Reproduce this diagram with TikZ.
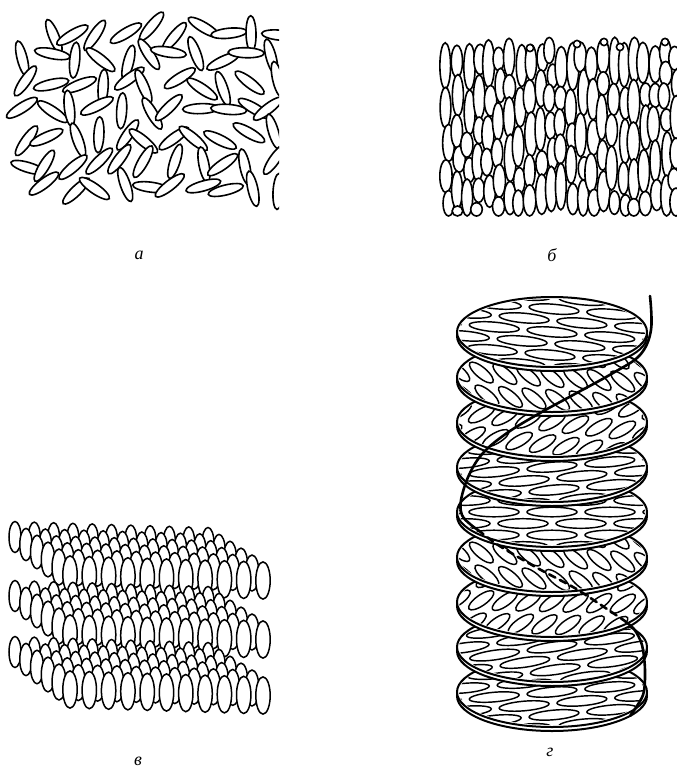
\documentclass[tikz,border=0pt]{standalone}
\usepackage{fontspec}
\setmainfont{Liberation Serif}
\begin{document}
\begin{tikzpicture}[x=1pt,y=-1pt,
  rod/.style={draw=black, fill=white, line width=1.6pt},
  smrod/.style={draw=black, fill=white, line width=1.5pt},
  lamella/.style={draw=black, fill=white, line width=2pt},
  molec/.style={draw=black, line width=1.45pt},
  helixline/.style={draw=black, line width=2.6pt, line cap=round},
  lab/.style={font=\fontsize{18}{20}\selectfont\itshape, inner sep=0pt}]
\useasboundingbox (0,0) rectangle (677,772);

% --- isotropic liquid: randomly oriented rods ---
\pgfmathsetseed{11}
\begin{scope}
  \clip (0,0) rectangle (279,230);
  \foreach \i in {0,...,10}{
    \foreach \j in {0,...,6}{
      \pgfmathsetmacro\px{24+\i*25+6*rand}
      \pgfmathsetmacro\py{32+\j*26+6*rand}
      \pgfmathsetmacro\ang{180*rnd}
      \pgfmathsetmacro\dx{(\px-165)/150}
      \pgfmathsetmacro\dy{(\py-110)/108}
      \pgfmathtruncatemacro\ok{\dx*\dx+\dy*\dy<1.2}
      \ifnum\ok=1
        \draw[rod, rotate around={\ang:(\px,\py)}] (\px,\py) ellipse [x radius=18, y radius=5];
      \fi
    }}
\end{scope}

% --- nematic phase: parallel rods stacked in loose columns ---
\pgfmathsetseed{5}
\foreach \c in {0,...,22}{
  \pgfmathsetmacro\tmp{37+12*rnd}\global\let\ycur\tmp
  \foreach \r in {0,...,7}{
    \pgfmathsetmacro\hh{22+26*rnd}
    \pgfmathsetmacro\ytop{\ycur}
    \pgfmathsetmacro\ybot{min(\ytop+\hh,216)}
    \pgfmathtruncatemacro\ok{\ybot-\ytop>8}
    \pgfmathsetmacro\px{447+\c*10.4+2*rand}
    \pgfmathsetmacro\wr{5.3+1*rnd}
    \ifnum\ok=1
      \draw[rod] (\px,{(\ytop+\ybot)/2}) ellipse [x radius=\wr, y radius={(\ybot-\ytop)/2}];
    \fi
    \pgfmathsetmacro\tmp{\ybot-4+5*rnd}\global\let\ycur\tmp
  }}
\foreach \p in {(577,44),(604,42),(620,47),(665,42),(530,48)}
  \draw[rod] \p circle [radius=3.6];

% --- smectic phase: three layers of upright rods in perspective ---
\foreach \oy in {537,596,652}{
  \foreach \j in {0,...,5}{
    \foreach \i in {0,...,10}{
      \pgfmathsetmacro\s{1+0.04*\j}
      \draw[smrod] ({15+\j*11+\i*19.3},{\oy+\j*7.5+\i*0.6})
        ellipse [x radius={6*\s}, y radius={15.5*\s}];
    }}}

% --- cholesteric phase: stack of twisted layers ---
\foreach \k/\ang/\hl/\hw/\pa/\pb in {8/5/25/4.8/58/11.5, 7/8/25/4.8/58/11.5,
    6/35/15/5.3/38/14, 5/-40/15/5.3/38/14, 4/0/25/4.8/58/11.5, 3/5/25/4.8/58/11.5,
    2/30/15/5.3/38/14, 1/-40/15/5.3/38/14, 0/-5/25/4.8/58/11.5}{
  \pgfmathsetmacro\cy{332+45*\k}
  \draw[lamella] (552,\cy+4) ellipse [x radius=95, y radius=35];
  \draw[lamella] (552,\cy) ellipse [x radius=95, y radius=35];
  \begin{scope}
    \clip (552,\cy) ellipse [x radius=93, y radius=33];
    \begin{scope}[shift={(552,\cy)}, rotate=\ang]
      \foreach \a in {-4,...,4}{
        \foreach \b in {-8,...,8}{
          \pgfmathsetmacro\rx{\a*\pa+mod(abs(\b),2)*0.5*\pa}
          \draw[molec] (\rx,\b*\pb) ellipse [x radius=\hl, y radius=\hw];
        }}
    \end{scope}
  \end{scope}
}

% helical axis line: front, hidden (dashed) and front again
\coordinate (h0) at (650,296);
\coordinate (h1) at (478,530);
\coordinate (h2) at (622,619);
\coordinate (h3) at (630,716);
\draw[helixline] plot[smooth, tension=0.6] coordinates {(h0) (651,330) (640,355)
  (613,373) (573,395) (540,413) (507,433) (483,453) (469,475) (461,500)
  (462,515) (470,524) (h1)};
\draw[helixline, dash pattern=on 7pt off 5pt] plot[smooth] coordinates {(h1)
  (495,543) (518,557) (541,570) (573,587) (592,599) (610,611) (h2)};
\draw[helixline] plot[smooth] coordinates {(h2) (634,629) (642,645) (645,670)
  (643,695) (h3)};

% captions
\node[lab] (la) at (139,255) {а};
\node[lab] (lb) at (552,255) {б};
\node[lab] (lc) at (138,761) {в};
\node[lab] (ld) at (550,752) {г};
\end{tikzpicture}
\end{document}
